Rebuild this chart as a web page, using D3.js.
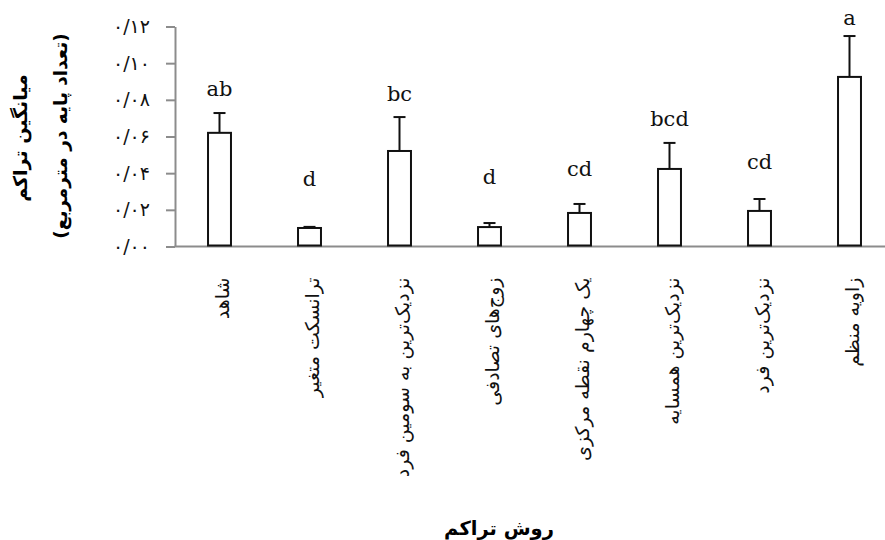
<!DOCTYPE html>
<html>
<head>
<meta charset="utf-8">
<script src="https://cdn.jsdelivr.net/npm/d3@7"></script>
<style>
  body { margin: 0; background: #fff; }
  svg { display: block; }
  .fa { font-family: "DejaVu Sans", sans-serif; }
</style>
</head>
<body>
<svg id="chart"></svg>
<script>
// roush-e tarakom (sampling methods)
const categories = [
    'شاهد',
    'ترانسکت متغیر',
    'نزدیک‌ترین به سومین فرد',
    'زوج‌های تصادفی',
    'یک چهارم نقطه مرکزی',
    'نزدیک‌ترین همسایه',
    'نزدیک‌ترین فرد',
    'زاویه منظم'
];
// mean density (plants per m2) and standard error
const means  = [0.0620, 0.0101, 0.0521, 0.0106, 0.0183, 0.0423, 0.0194, 0.0925];
const errors = [0.0108, 0.0006, 0.0185, 0.0022, 0.0049, 0.0142, 0.0065, 0.0223];
// significance groups, and the height (data units) of each letter's baseline
const letters = ['ab', 'd', 'bc', 'd', 'cd', 'bcd', 'cd', 'a'];
const letterY = [0.0820, 0.0330, 0.0794, 0.0340, 0.0385, 0.0657, 0.0423, 0.1208];
const yTicks  = [0, 0.02, 0.04, 0.06, 0.08, 0.10, 0.12];

const W = 885, H = 540;
const X0 = 174.5, X1 = 894.5, Y0 = 246.5, Y1 = 26.5;

const svg = d3.select('#chart').attr('width', W).attr('height', H);

const x = d3.scaleBand().domain(categories).range([X0, X1])
    .paddingInner(0.745).paddingOuter(0.3725);
const y = d3.scaleLinear().domain([0, 0.12]).range([Y0, Y1]);

// persian digits, e.g. 0.12 -> ۰/۱۲
const faDigits = '۰۱۲۳۴۵۶۷۸۹';
const faFmt = v => d3.format('.2f')(v).replace('.', '/')
    .replace(/\d/g, d => faDigits[+d]);

// y axis
svg.append('g')
    .attr('transform', `translate(${X0 + 0.5},0)`)
    .call(d3.axisLeft(y).tickValues(yTicks).tickFormat(faFmt)
        .tickSizeInner(9).tickSizeOuter(0).tickPadding(16))
    .call(a => a.selectAll('.domain, line').attr('stroke', '#8c8c8c').attr('stroke-width', 2))
    .call(a => a.selectAll('text')
        .attr('class', 'fa')
        .attr('font-size', 19)
        .attr('letter-spacing', 4)
        .attr('fill', '#111'));

// x axis (line only, labels rotated)
svg.append('g')
    .attr('transform', `translate(0,${Y0})`)
    .call(d3.axisBottom(x).tickSize(0).tickPadding(0))
    .call(a => a.select('.domain').attr('stroke', '#8c8c8c').attr('stroke-width', 2)
        .attr('d', `M${X0},0H${W}`))
    .call(a => a.selectAll('.tick text')
        .attr('class', 'fa')
        .attr('font-size', 19)
        .attr('fill', '#111')
        .attr('text-anchor', 'end')
        .attr('transform', 'translate(3,31) rotate(-90)')
        .attr('y', 0)
        .attr('dy', '0.35em'));

const cx = d => x(d) + x.bandwidth() / 2;

// bars
svg.append('g').selectAll('rect')
    .data(categories)
    .join('rect')
    .attr('x', d => x(d))
    .attr('y', (d, i) => y(means[i]))
    .attr('width', x.bandwidth())
    .attr('height', (d, i) => Y0 - 1 - y(means[i]))
    .attr('fill', '#fff')
    .attr('stroke', '#111')
    .attr('stroke-width', 2);

// error bars (upper only)
const eb = svg.append('g').attr('stroke', '#111').attr('stroke-width', 2);
eb.selectAll('line.v')
    .data(categories)
    .join('line')
    .attr('class', 'v')
    .attr('x1', cx).attr('x2', cx)
    .attr('y1', (d, i) => y(means[i]))
    .attr('y2', (d, i) => y(means[i] + errors[i]));
eb.selectAll('line.cap')
    .data(categories)
    .join('line')
    .attr('class', 'cap')
    .attr('x1', d => cx(d) - 6).attr('x2', d => cx(d) + 6)
    .attr('y1', (d, i) => y(means[i] + errors[i]))
    .attr('y2', (d, i) => y(means[i] + errors[i]));

// significance letters
svg.append('g').selectAll('text')
    .data(categories)
    .join('text')
    .attr('x', cx)
    .attr('y', (d, i) => y(letterY[i]))
    .attr('text-anchor', 'middle')
    .attr('font-family', '"DejaVu Serif", serif')
    .attr('font-size', 21)
    .attr('fill', '#111')
    .text((d, i) => letters[i]);

// axis titles
svg.append('text')
    .attr('class', 'fa')
    .attr('transform', 'translate(20,138) rotate(-90)')
    .attr('text-anchor', 'middle')
    .attr('dy', '0.35em')
    .attr('font-size', 19)
    .attr('font-weight', 'bold')
    .text('میانگین تراکم');

svg.append('text')
    .attr('class', 'fa')
    .attr('transform', 'translate(61,136) rotate(-90)')
    .attr('text-anchor', 'middle')
    .attr('dy', '0.35em')
    .attr('font-size', 18.5)
    .attr('font-weight', 'bold')
    .text('(تعداد پایه در مترمربع)');

svg.append('text')
    .attr('class', 'fa')
    .attr('x', 499)
    .attr('y', 535)
    .attr('text-anchor', 'middle')
    .attr('font-size', 19.5)
    .attr('font-weight', 'bold')
    .text('روش تراکم');
</script>
</body>
</html>
